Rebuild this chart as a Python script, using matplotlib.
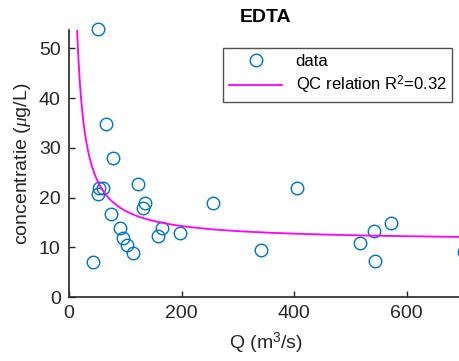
import matplotlib
matplotlib.use("Agg")
import matplotlib.pyplot as plt
import numpy as np

# measured discharge (m3/s) and EDTA concentration (ug/L)
Q = [51.5, 65.7, 78, 42, 51, 53.3, 59.8, 74, 91, 96.5, 102.4, 113.6, 123,
     130.8, 135.5, 157.4, 165.7, 197.6, 255, 340.8, 405, 516.6, 542, 544.5,
     572.8, 702]
C = [54.0, 34.7, 27.9, 7.1, 20.7, 22.0, 22.0, 16.7, 13.8, 11.9, 10.4, 8.8,
     22.7, 17.8, 18.9, 12.2, 13.8, 12.9, 18.9, 9.4, 21.9, 10.8, 13.3, 7.2,
     14.8, 9.1]

# QC relation C = a + b/Q
a_fit = 11.2
b_fit = 615.0
r2 = 0.32

plt.rcParams['font.family'] = ['Liberation Sans', 'DejaVu Sans']
plt.rcParams['mathtext.fontset'] = 'custom'
plt.rcParams['mathtext.rm'] = 'Liberation Sans'
plt.rcParams['mathtext.it'] = 'Liberation Serif:italic'

fig = plt.figure(figsize=(4.6, 3.61), dpi=100)
ax = fig.add_axes([69/460, 1-297/361, (463-69)/460, (297-30)/361])

q_line = np.linspace(10, 700, 500)
ax.plot(Q, C, 'o', mfc='none', mec='#0072BD', ms=9, mew=1.0, label='data',
        clip_on=False)
ax.plot(q_line, a_fit + b_fit/q_line, color='#FF00FF', lw=1.3,
        label='QC relation R$^2$=%.2f' % r2)

ax.set_xlim(0, 700)
ax.set_ylim(0, 53.7)
ax.set_xticks([0, 200, 400, 600])
ax.set_yticks([0, 10, 20, 30, 40, 50])

for s in ['top', 'right']:
    ax.spines[s].set_visible(False)
for s in ['left', 'bottom']:
    ax.spines[s].set_color('#262626')
    ax.spines[s].set_linewidth(1.2)
ax.tick_params(direction='in', length=4, width=1, colors='#262626',
               labelsize=14, pad=6)

ax.set_title('EDTA', fontsize=14, fontweight='bold', pad=6)
ax.set_xlabel('Q (m$^3$/s)', fontsize=14, color='#262626', labelpad=6)
ax.set_ylabel('concentratie ($\\mu$g/L)', fontsize=14, color='#262626',
              labelpad=4)

leg = ax.legend(loc='upper left', bbox_to_anchor=(223/460, 1-48/361),
                bbox_transform=fig.transFigure, fontsize=12, frameon=True,
                fancybox=False, edgecolor='#262626', borderpad=0.35,
                handlelength=3.2, labelspacing=0.3, borderaxespad=0)
leg.get_frame().set_linewidth(1.0)

fig.savefig('out.png', dpi=100)
